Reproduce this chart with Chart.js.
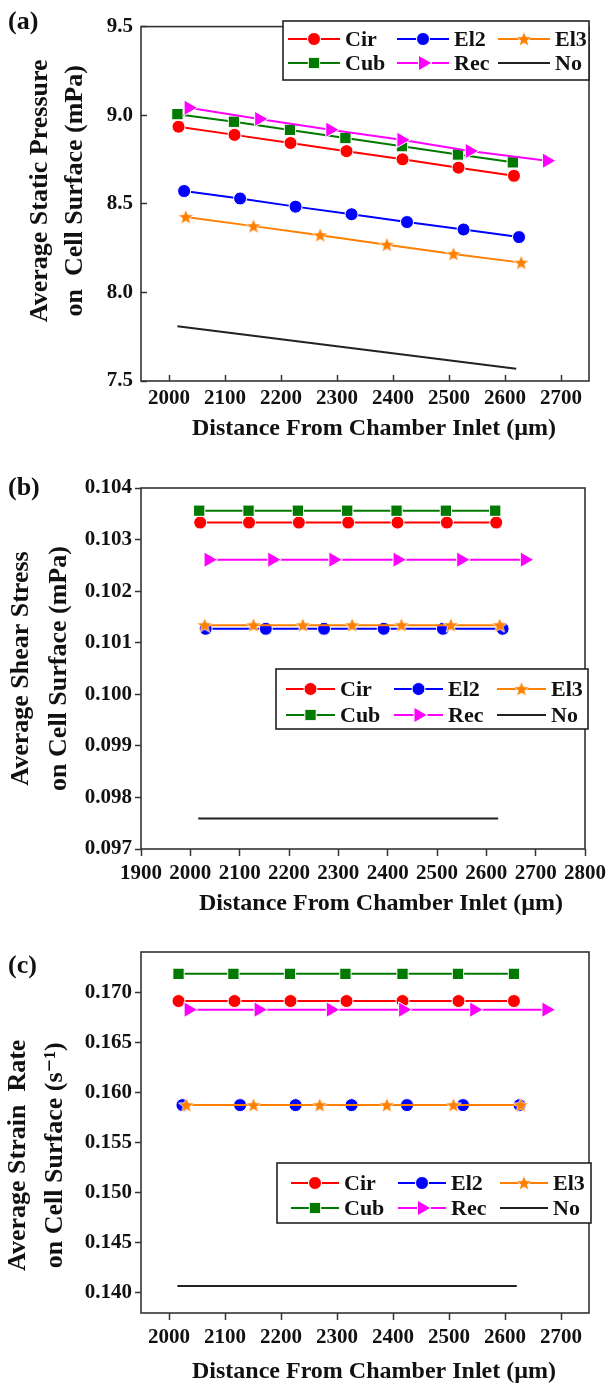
<!DOCTYPE html>
<html>
<head>
<meta charset="utf-8">
<title>Average static pressure, shear stress and strain rate on cell surface</title>
<script src="https://cdn.jsdelivr.net/npm/chart.js@4.4.1/dist/chart.umd.min.js"></script>
<style>
  html, body { margin: 0; padding: 0; background: #fff; }
  #page { position: relative; width: 611px; height: 1387px; }
  .panel { position: absolute; left: 0; width: 611px; }
</style>
</head>
<body>
<div id="page">
  <div class="panel" style="top:0;height:460px"><canvas id="chartA"></canvas></div>
  <div class="panel" style="top:460px;height:460px"><canvas id="chartB"></canvas></div>
  <div class="panel" style="top:920px;height:467px"><canvas id="chartC"></canvas></div>
</div>
<script>
// ---- data ----
var seriesNames = ['Cir', 'El2', 'El3', 'Cub', 'Rec', 'No'];

// tick labels
var xTicksAC = [2000, 2100, 2200, 2300, 2400, 2500, 2600, 2700];
var xTicksB = [1900, 2000, 2100, 2200, 2300, 2400, 2500, 2600, 2700, 2800];
var yTicksA = [7.5, 8.0, 8.5, 9.0, 9.5];
var yTicksB = [0.097, 0.098, 0.099, 0.100, 0.101, 0.102, 0.103, 0.104];
var yTicksC = [0.140, 0.145, 0.150, 0.155, 0.160, 0.165, 0.170];

// (a) average static pressure (mPa)
var xCirA = [2017, 2117, 2217, 2317, 2417, 2517, 2616];
var yCirA = [8.935, 8.889, 8.843, 8.797, 8.751, 8.704, 8.658];
var xEl2A = [2027, 2127, 2226, 2326, 2425, 2526, 2625];
var yEl2A = [8.572, 8.530, 8.484, 8.441, 8.397, 8.355, 8.312];
var xEl3A = [2030, 2151, 2270, 2389, 2508, 2629];
var yEl3A = [8.426, 8.374, 8.323, 8.269, 8.217, 8.168];
var xCubA = [2015, 2116, 2216, 2315, 2416, 2516, 2614];
var yCubA = [9.006, 8.963, 8.917, 8.871, 8.825, 8.778, 8.734];
var xRecA = [2035, 2161, 2288, 2415, 2537, 2675];
var yRecA = [9.042, 8.979, 8.918, 8.861, 8.798, 8.743];
var xNoA = [2015, 2620];
var yNoA = [7.809, 7.569];

// (b) average shear stress (mPa)
var xCirB = [2020, 2119, 2220, 2320, 2420, 2520, 2620];
var yCirB = [0.10333, 0.10333, 0.10333, 0.10333, 0.10333, 0.10333, 0.10333];
var xEl2B = [2031, 2153, 2271, 2392, 2512, 2633];
var yEl2B = [0.10127, 0.10127, 0.10127, 0.10127, 0.10127, 0.10127];
var xEl3B = [2029, 2128, 2228, 2328, 2428, 2528, 2627];
var yEl3B = [0.10134, 0.10134, 0.10134, 0.10134, 0.10134, 0.10134, 0.10134];
var xCubB = [2018, 2118, 2218, 2318, 2418, 2518, 2618];
var yCubB = [0.10356, 0.10356, 0.10356, 0.10356, 0.10356, 0.10356, 0.10356];
var xRecB = [2037, 2166, 2290, 2420, 2549, 2678];
var yRecB = [0.10261, 0.10261, 0.10261, 0.10261, 0.10261, 0.10261];
var xNoB = [2016, 2624];
var yNoB = [0.09759, 0.09759];

// (c) average strain rate (1/s)
var xCirC = [2017, 2117, 2217, 2317, 2417, 2517, 2616];
var yCirC = [0.16911, 0.16911, 0.16911, 0.16911, 0.16911, 0.16911, 0.16911];
var xEl2C = [2024, 2127, 2226, 2326, 2425, 2525, 2626];
var yEl2C = [0.15873, 0.15873, 0.15873, 0.15873, 0.15873, 0.15873, 0.15873];
var xEl3C = [2031, 2151, 2269, 2389, 2508, 2628];
var yEl3C = [0.15873, 0.15873, 0.15873, 0.15873, 0.15873, 0.15873];
var xCubC = [2017, 2115, 2216, 2315, 2417, 2516, 2616];
var yCubC = [0.17182, 0.17182, 0.17182, 0.17182, 0.17182, 0.17182, 0.17182];
var xRecC = [2035, 2160, 2289, 2418, 2545, 2674];
var yRecC = [0.16825, 0.16825, 0.16825, 0.16825, 0.16825, 0.16825];
var xNoC = [2015, 2621];
var yNoC = [0.14069, 0.14069];

var xTitle = 'Distance From Chamber Inlet (\u00b5m)';

// ---- styles ----
var SERIF = '"Liberation Serif", "DejaVu Serif", "Times New Roman", serif';
Chart.defaults.font.family = SERIF;
Chart.defaults.font.weight = 'bold';
Chart.defaults.color = '#111';

function makeStar(color) {
  var c = document.createElement('canvas');
  c.width = 18; c.height = 18;
  var g = c.getContext('2d');
  g.beginPath();
  for (var i = 0; i < 10; i++) {
    var r = i % 2 === 0 ? 8.2 : 3.5;
    var a = -Math.PI / 2 + i * Math.PI / 5;
    g.lineTo(9 + r * Math.cos(a), 9.5 + r * Math.sin(a));
  }
  g.closePath();
  g.fillStyle = color;
  g.fill();
  g.lineWidth = 0.8;
  g.strokeStyle = '#fff';
  g.stroke();
  return c;
}

var styles = {
  Cir: { color: '#ff0000', point: 'circle', radius: 6.5, rot: 0 },
  El2: { color: '#0000ff', point: 'circle', radius: 6.5, rot: 0 },
  El3: { color: '#ff7f00', point: makeStar('#ff7f00'), radius: 6.5, rot: 0 },
  Cub: { color: '#007a00', point: 'rect', radius: 8, rot: 0 },
  Rec: { color: '#ff00ff', point: 'triangle', radius: 9, rot: 90 },
  No:  { color: '#222222', point: false, radius: 0, rot: 0 }
};

function pts(xs, ys) {
  return xs.map(function(x, i) { return { x: x, y: ys[i] }; });
}

function makeDatasets(xs, ys) {
  return seriesNames.map(function(name, i) {
    var s = styles[name];
    return {
      label: name,
      data: pts(xs[i], ys[i]),
      borderColor: s.color,
      backgroundColor: s.color,
      borderWidth: 2,
      pointStyle: s.point,
      pointRadius: s.radius,
      pointHoverRadius: s.radius,
      pointRotation: s.rot,
      pointBackgroundColor: s.color,
      pointBorderColor: '#fff',
      pointBorderWidth: 1,
      tension: 0,
      order: seriesNames.length - i
    };
  });
}

function fixedTicks(values) {
  return function(scale) {
    scale.ticks = values.map(function(v) { return { value: v }; });
  };
}

// frame, panel letter and boxed legend
var decor = {
  id: 'panelDecor',
  afterDatasetsDraw: function(chart) {
    var a = chart.chartArea, ctx = chart.ctx;
    ctx.save();
    ctx.lineWidth = 1.6;
    ctx.strokeStyle = '#333';
    ctx.strokeRect(a.left, a.top, a.right - a.left, a.bottom - a.top);
    ctx.restore();
  },
  afterDraw: function(chart, args, opts) {
    var ctx = chart.ctx;
    ctx.save();
    ctx.fillStyle = '#111';
    ctx.font = 'bold 26px ' + SERIF;
    ctx.textBaseline = 'middle';
    ctx.fillText(opts.label, opts.labelX, opts.labelY);

    var b = opts.box;
    ctx.fillStyle = '#fff';
    ctx.fillRect(b.x, b.y, b.w, b.h);
    ctx.lineWidth = 1.6;
    ctx.strokeStyle = '#222';
    ctx.strokeRect(b.x, b.y, b.w, b.h);
    ctx.font = 'bold 22px ' + SERIF;
    chart.data.datasets.forEach(function(ds, i) {
      var lx = b.x + b.cols[i % 3];
      var ly = b.y + b.rows[Math.floor(i / 3)];
      ctx.strokeStyle = ds.borderColor;
      ctx.lineWidth = ds.borderWidth;
      ctx.beginPath();
      ctx.moveTo(lx, ly);
      ctx.lineTo(lx + b.len, ly);
      ctx.stroke();
      if (ds.pointStyle) {
        ctx.fillStyle = ds.pointBackgroundColor;
        ctx.strokeStyle = '#fff';
        ctx.lineWidth = 1;
        Chart.helpers.drawPoint(ctx, {
          pointStyle: ds.pointStyle, radius: ds.pointRadius,
          rotation: ds.pointRotation, borderWidth: 1
        }, lx + b.len / 2, ly);
      }
      ctx.fillStyle = '#111';
      ctx.fillText(ds.label, lx + b.len + 5, ly + 1);
    });
    ctx.restore();
  }
};

function makePanel(id, p) {
  var canvasH = p.canvasH;
  return new Chart(document.getElementById(id), {
    type: 'line',
    data: { datasets: makeDatasets(p.xs, p.ys) },
    plugins: [decor],
    options: {
      responsive: true,
      maintainAspectRatio: false,
      animation: false,
      layout: { padding: { top: p.top, right: 611 - p.right, bottom: p.padBottom, left: 0 } },
      plugins: {
        legend: { display: false },
        tooltip: { enabled: false },
        panelDecor: { label: p.label, labelX: 8, labelY: p.labelY, box: p.legend }
      },
      scales: {
        x: {
          type: 'linear',
          min: p.xMin, max: p.xMax,
          afterBuildTicks: fixedTicks(p.xTicks),
          afterFit: function(s) { s.height = canvasH - p.padBottom - p.bottom; },
          border: { display: false },
          grid: { drawOnChartArea: false, tickLength: p.xTick, tickWidth: 1.5, color: '#333' },
          ticks: {
            autoSkip: false, maxRotation: 0,
            padding: p.xTickPad, font: { size: 21, weight: 'bold' }, color: '#111',
            callback: function(v) { return String(v); }
          },
          title: { display: true, text: p.xTitle, padding: 0, color: '#111',
                   font: { size: 24, weight: 'bold' } }
        },
        y: {
          min: p.yMin, max: p.yMax,
          afterBuildTicks: fixedTicks(p.yTicks),
          afterFit: function(s) { s.width = p.left; },
          border: { display: false },
          grid: { drawOnChartArea: false, tickLength: p.yTick, tickWidth: 1.5, color: '#333' },
          ticks: {
            autoSkip: false, padding: p.yTickPad,
            font: { size: 21, weight: 'bold' }, color: '#111',
            callback: function(v) { return Number(v).toFixed(p.yDigits); }
          },
          title: { display: true, text: p.yTitle, color: '#111',
                   padding: { top: p.yTitlePad, bottom: 0 },
                   font: { size: 26, weight: 'bold', lineHeight: p.yTitleLH / 26 } }
        }
      }
    }
  });
}

makePanel('chartA', {
  canvasH: 460, top: 21, bottom: 381, left: 141, right: 589, padBottom: 17,
  xs: [xCirA, xEl2A, xEl3A, xCubA, xRecA, xNoA],
  ys: [yCirA, yEl2A, yEl3A, yCubA, yRecA, yNoA],
  xMin: 1950, xMax: 2750, yMin: 7.5, yMax: 9.5, yDigits: 1,
  xTicks: xTicksAC, yTicks: yTicksA,
  xTick: -6, xTickPad: 11, yTick: -6, yTickPad: 14,
  xTitle: '   ' + xTitle,
  yTitle: ['    Average Static Pressure', '    on  Cell Surface (mPa)'],
  yTitlePad: 23, yTitleLH: 35,
  label: '(a)', labelY: 22,
  legend: { x: 283, y: 21, w: 306, h: 59, cols: [5, 114, 215], rows: [18, 42], len: 52 }
});

makePanel('chartB', {
  canvasH: 460, top: 28, bottom: 389, left: 141, right: 587, padBottom: 2,
  xs: [xCirB, xEl2B, xEl3B, xCubB, xRecB, xNoB],
  ys: [yCirB, yEl2B, yEl3B, yCubB, yRecB, yNoB],
  xMin: 1900, xMax: 2800, yMin: 0.097, yMax: 0.104, yDigits: 3,
  xTicks: xTicksB, yTicks: yTicksB,
  xTick: 7, xTickPad: 5, yTick: 6, yTickPad: 3,
  xTitle: '      ' + xTitle,
  yTitle: ['Average Shear Stress', 'on Cell Surface (mPa)'],
  yTitlePad: 2, yTitleLH: 38,
  label: '(b)', labelY: 28,
  legend: { x: 276, y: 209, w: 312, h: 60, cols: [10, 118, 221], rows: [20, 46], len: 49 }
});

makePanel('chartC', {
  canvasH: 467, top: 32, bottom: 393, left: 141, right: 589, padBottom: 1,
  xs: [xCirC, xEl2C, xEl3C, xCubC, xRecC, xNoC],
  ys: [yCirC, yEl2C, yEl3C, yCubC, yRecC, yNoC],
  xMin: 1950, xMax: 2750, yMin: 0.138, yMax: 0.174, yDigits: 3,
  xTicks: xTicksAC, yTicks: yTicksC,
  xTick: 7, xTickPad: 5, yTick: 6, yTickPad: 3,
  xTitle: '   ' + xTitle,
  yTitle: ['Average Strain  Rate       ', 'on Cell Surface (s\u207b\u00b9)       '],
  yTitlePad: 0, yTitleLH: 37,
  label: '(c)', labelY: 46,
  legend: { x: 277, y: 243, w: 314, h: 60, cols: [14, 121, 223], rows: [20, 45], len: 48 }
});
</script>
</body>
</html>
